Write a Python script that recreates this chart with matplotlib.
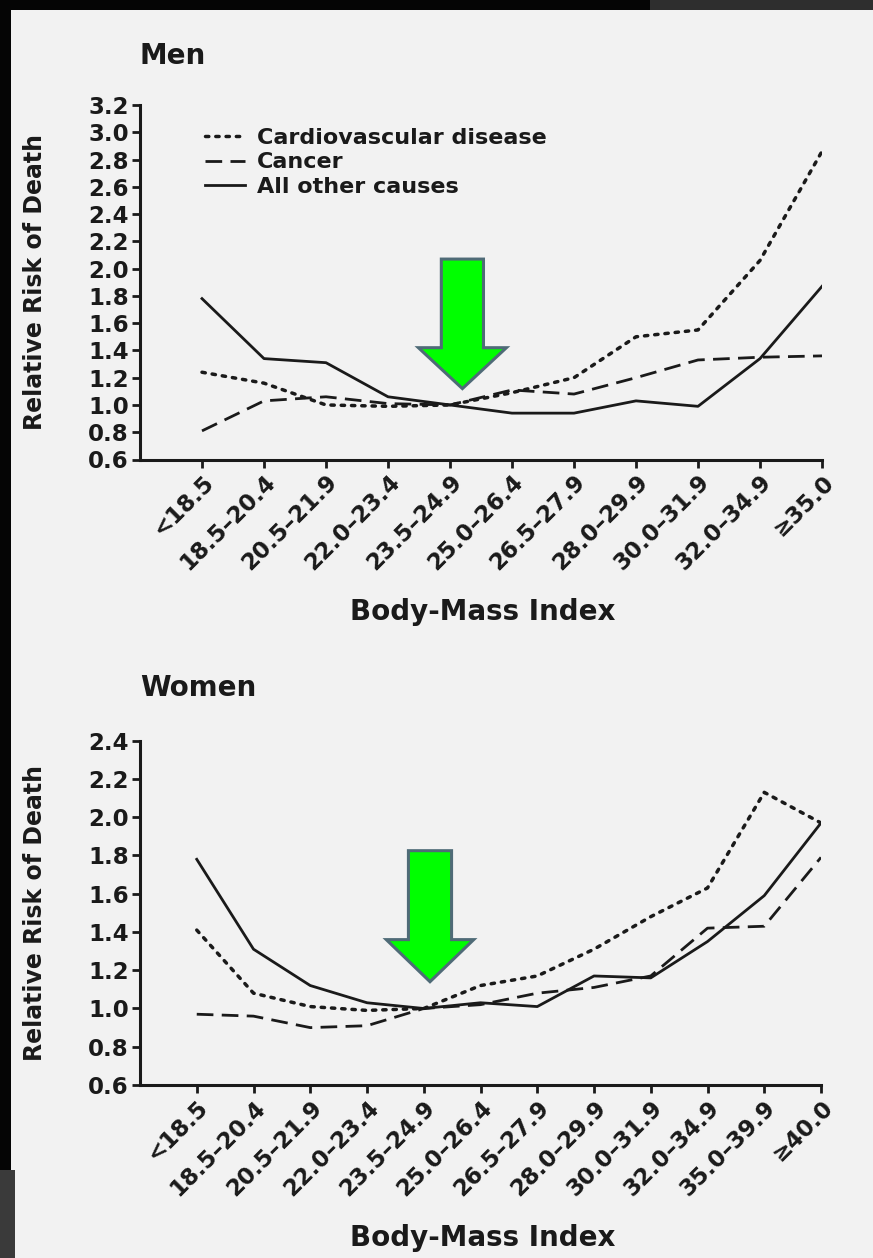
"""Riesgo relativo de muerte por IMC, hombres y mujeres (con flechas verdes)."""

import matplotlib

matplotlib.use("Agg")

import matplotlib.pyplot as plt
from matplotlib.patches import Polygon, Rectangle

plt.rcParams["font.family"] = ["DejaVu Sans"]
plt.rcParams["font.weight"] = "bold"
plt.rcParams["axes.labelweight"] = "bold"
plt.rcParams["lines.scale_dashes"] = False

W, H = 873, 1258
BG = "#f2f2f2"
INK = "#1a1a1a"

men_labels = ["<18.5", "18.5–20.4", "20.5–21.9", "22.0–23.4", "23.5–24.9", "25.0–26.4",
              "26.5–27.9", "28.0–29.9", "30.0–31.9", "32.0–34.9", "≥35.0"]
men_cvd = [1.24, 1.16, 1.00, 0.99, 1.00, 1.09, 1.20, 1.50, 1.55, 2.06, 2.86]
men_cancer = [0.81, 1.03, 1.06, 1.01, 1.00, 1.11, 1.08, 1.20, 1.33, 1.35, 1.36]
men_other = [1.78, 1.34, 1.31, 1.06, 1.00, 0.94, 0.94, 1.03, 0.99, 1.34, 1.87]
men_yticks = [0.6, 0.8, 1.0, 1.2, 1.4, 1.6, 1.8, 2.0, 2.2, 2.4, 2.6, 2.8, 3.0, 3.2]

women_labels = ["<18.5", "18.5–20.4", "20.5–21.9", "22.0–23.4", "23.5–24.9", "25.0–26.4",
                "26.5–27.9", "28.0–29.9", "30.0–31.9", "32.0–34.9", "35.0–39.9", "≥40.0"]
women_cvd = [1.41, 1.08, 1.01, 0.99, 1.00, 1.12, 1.17, 1.31, 1.48, 1.63, 2.13, 1.97]
women_cancer = [0.97, 0.96, 0.90, 0.91, 1.00, 1.02, 1.08, 1.11, 1.17, 1.42, 1.43, 1.79]
women_other = [1.78, 1.31, 1.12, 1.03, 1.00, 1.03, 1.01, 1.17, 1.16, 1.35, 1.59, 1.97]
women_yticks = [0.6, 0.8, 1.0, 1.2, 1.4, 1.6, 1.8, 2.0, 2.2, 2.4]

series_names = ["Cardiovascular disease", "Cancer", "All other causes"]

DOTTED = (0, (2.4, 5.0))
DASHED = (0, (12, 6))


def px_box(left, top, right, bottom):
    return [left / W, 1 - bottom / H, (right - left) / W, (bottom - top) / H]


def draw_arrow(ax, x_tip, y_tip, y_top, y_head, half_shaft, half_head):
    pts = [
        (x_tip - half_shaft, y_top),
        (x_tip + half_shaft, y_top),
        (x_tip + half_shaft, y_head),
        (x_tip + half_head, y_head),
        (x_tip, y_tip),
        (x_tip - half_head, y_head),
        (x_tip - half_shaft, y_head),
    ]
    ax.add_patch(Polygon(pts, closed=True, facecolor="#00ff00", edgecolor="#4f6b77",
                         linewidth=2.2, zorder=5, clip_on=False))


def panel(fig, box, labels, cvd, cancer, other, yticks, title, title_y, xlabel_y, legend=False):
    ax = fig.add_axes(box)
    ax.set_facecolor("none")
    x = list(range(len(labels)))

    ax.plot(x, cvd, color=INK, linewidth=2.5, linestyle=DOTTED, dash_capstyle="round",
            label=series_names[0])
    ax.plot(x, cancer, color=INK, linewidth=2.0, linestyle=DASHED, label=series_names[1])
    ax.plot(x, other, color=INK, linewidth=2.0, label=series_names[2])

    ax.set_xlim(-1, len(labels) - 1)
    ax.set_ylim(yticks[0], yticks[-1])
    ax.set_yticks(yticks)
    ax.set_yticklabels([f"{v:.1f}" for v in yticks])
    ax.set_xticks(x)
    ax.set_xticklabels(labels, rotation=45, ha="right", va="top", rotation_mode="anchor")

    for side in ("top", "right"):
        ax.spines[side].set_visible(False)
    for side in ("left", "bottom"):
        ax.spines[side].set_linewidth(2.2)
        ax.spines[side].set_color(INK)
    ax.tick_params(axis="both", length=6, width=2.0, color=INK, labelcolor=INK, labelsize=16.5)
    ax.tick_params(axis="x", pad=2)
    ax.tick_params(axis="y", pad=2)

    ax.set_ylabel("Relative Risk of Death", fontsize=17, color=INK)
    ax.yaxis.set_label_coords(-0.154, 0.5)
    ax.yaxis.label.set_verticalalignment("center")
    ax.set_xlabel("Body-Mass Index", fontsize=20, color=INK)
    ax.xaxis.set_label_coords(0.503, xlabel_y)
    ax.xaxis.label.set_verticalalignment("center")

    fig.text(140 / W, title_y, title, fontsize=20, color=INK, ha="left", va="center")

    if legend:
        ax.legend(loc="upper left", bbox_to_anchor=(0.095, 0.935), frameon=False,
                  fontsize=16, handlelength=1.8, handletextpad=0.55, labelspacing=0.2,
                  borderpad=0, borderaxespad=0, labelcolor=INK)
    return ax


def main():
    fig = plt.figure(figsize=(W / 100, H / 100), dpi=100, facecolor=BG)

    # marco oscuro de la diapositiva
    fig.patches.append(Rectangle((0, 1 - 1170 / H), 11 / W, 1170 / H, transform=fig.transFigure,
                                 facecolor="#050505", edgecolor="none", zorder=-1))
    fig.patches.append(Rectangle((0, 0), 15 / W, 1 - 1170 / H, transform=fig.transFigure,
                                 facecolor="#3a3a3a", edgecolor="none", zorder=-1))
    fig.patches.append(Rectangle((0, 1 - 10 / H), 1, 10 / H, transform=fig.transFigure,
                                 facecolor="#050505", edgecolor="none", zorder=-1))
    fig.patches.append(Rectangle((650 / W, 1 - 10 / H), 1, 10 / H, transform=fig.transFigure,
                                 facecolor="#2e2e2e", edgecolor="none", zorder=-1))

    men = panel(fig, px_box(140, 105, 822, 459.5), men_labels, men_cvd, men_cancer, men_other,
                men_yticks, "Men", 1 - 56 / H, -0.430, legend=True)
    draw_arrow(men, 4.2, 1.12, 2.07, 1.42, 0.34, 0.71)

    women = panel(fig, px_box(140, 740.7, 821, 1085), women_labels, women_cvd, women_cancer,
                  women_other, women_yticks, "Women", 1 - 688 / H, -0.444)
    draw_arrow(women, 4.11, 1.14, 1.825, 1.36, 0.38, 0.77)

    fig.savefig("out.png", dpi=100, facecolor=BG)
    plt.close(fig)


if __name__ == "__main__":
    main()
